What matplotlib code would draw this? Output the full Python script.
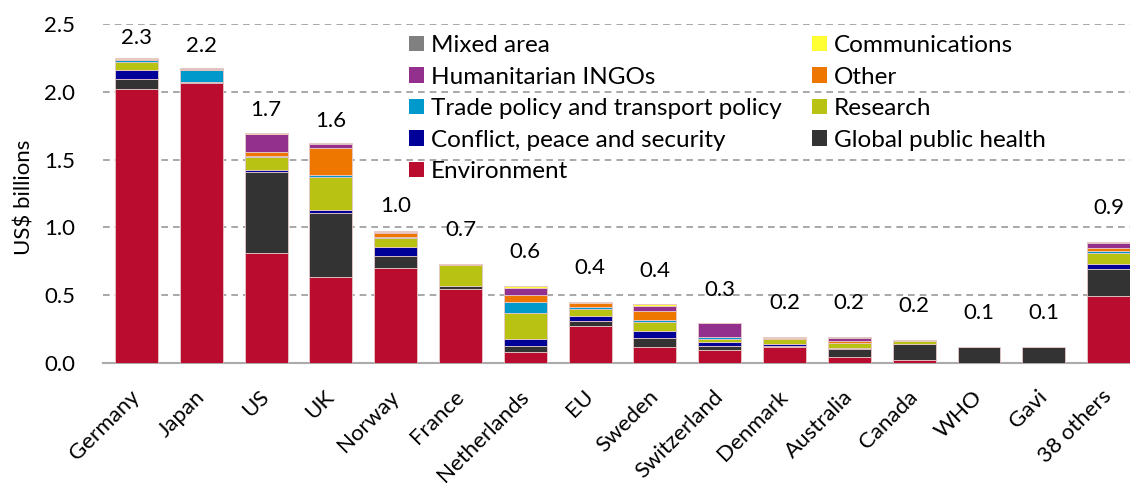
import matplotlib
matplotlib.use("Agg")
import matplotlib.pyplot as plt
import numpy as np
from matplotlib.patches import Patch

plt.rcParams['font.family'] = ['Lato', 'DejaVu Sans']

countries = ["Germany", "Japan", "US", "UK", "Norway", "France", "Netherlands", "EU",
             "Sweden", "Switzerland", "Denmark", "Australia", "Canada", "WHO", "Gavi", "38 others"]
total_labels = ["2.3", "2.2", "1.7", "1.6", "1.0", "0.7", "0.6", "0.4",
                "0.4", "0.3", "0.2", "0.2", "0.2", "0.1", "0.1", "0.9"]

environment    = [2.020, 2.063, 0.810, 0.632, 0.703, 0.546, 0.079, 0.275, 0.120, 0.096, 0.116, 0.042, 0.022, 0.000, 0.000, 0.494]
global_health  = [0.075, 0.012, 0.600, 0.472, 0.088, 0.024, 0.049, 0.037, 0.067, 0.032, 0.009, 0.061, 0.116, 0.120, 0.120, 0.202]
conflict       = [0.065, 0.000, 0.013, 0.024, 0.067, 0.000, 0.051, 0.037, 0.049, 0.024, 0.015, 0.005, 0.000, 0.000, 0.000, 0.032]
research       = [0.060, 0.000, 0.094, 0.246, 0.061, 0.153, 0.192, 0.049, 0.064, 0.022, 0.037, 0.042, 0.024, 0.000, 0.000, 0.081]
trade          = [0.012, 0.085, 0.006, 0.015, 0.012, 0.000, 0.081, 0.012, 0.017, 0.015, 0.000, 0.000, 0.000, 0.000, 0.000, 0.017]
other          = [0.008, 0.006, 0.031, 0.199, 0.025, 0.007, 0.049, 0.030, 0.066, 0.000, 0.010, 0.012, 0.000, 0.000, 0.000, 0.024]
humanitarian   = [0.004, 0.000, 0.136, 0.025, 0.012, 0.000, 0.054, 0.004, 0.037, 0.104, 0.000, 0.025, 0.000, 0.000, 0.000, 0.033]
communications = [0.003, 0.004, 0.003, 0.003, 0.002, 0.000, 0.013, 0.003, 0.013, 0.000, 0.003, 0.000, 0.005, 0.000, 0.000, 0.004]
mixed          = [0.003, 0.002, 0.004, 0.004, 0.002, 0.002, 0.003, 0.005, 0.003, 0.003, 0.005, 0.003, 0.002, 0.000, 0.000, 0.008]

series = [
    ("Environment", environment, "#BA0C2F"),
    ("Global public health", global_health, "#333333"),
    ("Conflict, peace and security", conflict, "#000099"),
    ("Research", research, "#B8C212"),
    ("Trade policy and transport policy", trade, "#0099CC"),
    ("Other", other, "#EE7700"),
    ("Humanitarian INGOs", humanitarian, "#93308E"),
    ("Communications", communications, "#FFFF33"),
    ("Mixed area", mixed, "#808080"),
]

# layout: gap (in points) between bar top and centre of its total label
label_gap_pt = [14.5, 16.5, 16.5, 16, 18, 24.5, 24.5, 24, 24, 24, 24.5, 24.5, 24.5, 24.5, 24.5, 24.5]

FS = 16
LFS = 17.5

fig = plt.figure(figsize=(11.3, 4.88), dpi=100)
ax = fig.add_axes([103/1130, 1-363/488, 1027/1130, 339/488])

x = np.arange(len(countries))
bottom = np.zeros(len(countries))
handles = {}
for name, vals, col in series:
    v = np.array(vals)
    ax.bar(x, v, 0.663, bottom=bottom, color=col, edgecolor="#E8C8C8", linewidth=0.6, zorder=3)
    bottom += v
    handles[name] = Patch(facecolor=col, edgecolor='none')

for xi, tot, lab, gap in zip(x, bottom, total_labels, label_gap_pt):
    ax.annotate(lab, (xi, tot), xytext=(0, gap), textcoords="offset points",
                ha="center", va="center", fontsize=FS, color="black")

ax.set_ylim(0, 2.5)
ax.set_xlim(-0.516, 15.33)
ax.set_yticks(np.arange(0, 2.51, 0.5))
ax.set_yticklabels([f"{t:.1f}" for t in np.arange(0, 2.51, 0.5)], fontsize=FS)
ax.yaxis.grid(True, linestyle=(0, (4, 3)), color="#999999", linewidth=1.2, zorder=0)
ax.set_axisbelow(True)
ax.tick_params(axis='y', length=0, pad=20)
ax.tick_params(axis='x', length=0, pad=22)
ax.set_xticks(x)
ax.set_xticklabels(countries, rotation=45, ha="right", va="center",
                   rotation_mode="anchor", fontsize=FS)
for s in ["top", "right", "left"]:
    ax.spines[s].set_visible(False)
ax.spines["bottom"].set_color("#AAAAAA")
ax.spines["bottom"].set_linewidth(1.5)
ax.set_ylabel("US$ billions", fontsize=FS)
ax.yaxis.set_label_coords(-0.067, 0.49)

col1 = ["Mixed area", "Humanitarian INGOs", "Trade policy and transport policy",
        "Conflict, peace and security", "Environment"]
col2 = ["Communications", "Other", "Research", "Global public health"]
order = col1 + col2
leg = ax.legend([handles[n] for n in order], order, ncol=2, loc="upper left",
                bbox_to_anchor=(0.298, 0.967), frameon=False, fontsize=LFS,
                handlelength=0.6, handleheight=0.6, handletextpad=0.3,
                labelspacing=0.43, columnspacing=1.25, borderaxespad=0.0, borderpad=0.0)

fig.savefig("out.png", dpi=100)
